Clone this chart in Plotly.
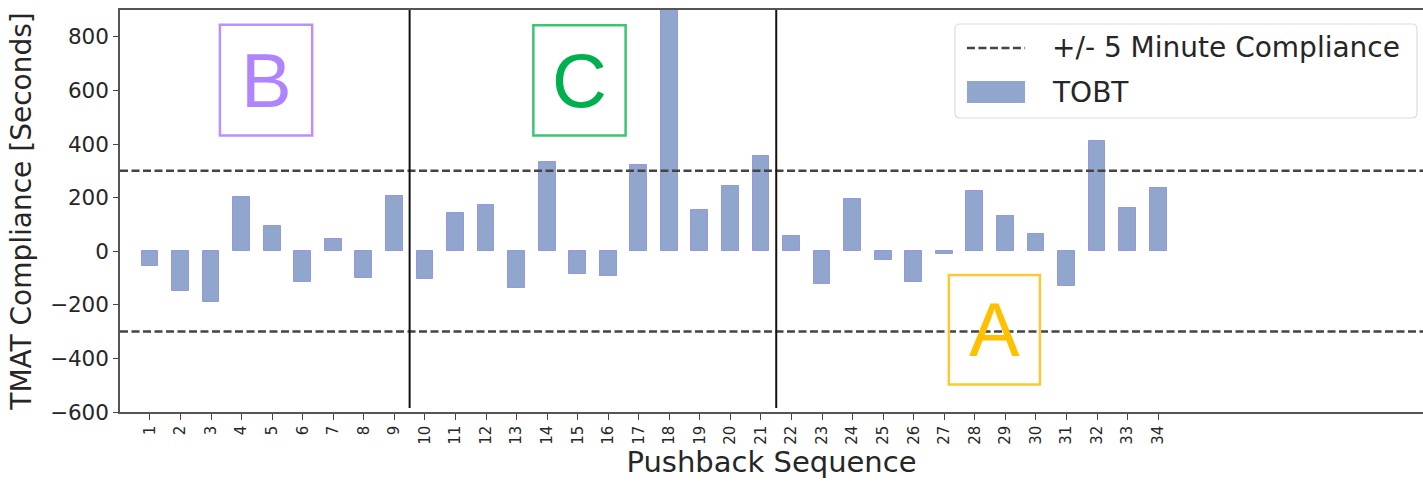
import plotly.graph_objects as go

# ---- data ----
sequence = list(range(1, 35))
tobt_compliance = [-55, -148, -189, 201, 93, -115, 44, -100, 205,
                   -105, 143, 171, -137, 334, -84, -93, 322, 930, 153, 245, 357,
                   56, -124, 195, -31, -115, -12, 226, 130, 65, -130, 410, 160, 234]
compliance_limit = 300          # +/- 5 minutes in seconds
group_boundaries = [9.5, 21.5]
y_ticks = [-600, -400, -200, 0, 200, 400, 600, 800]
legend_names = ["+/- 5 Minute Compliance", "TOBT"]

# group label boxes: (label, x0, x1, y0, y1, text color, box color)
group_labels = [
    ("B", 3.29, 6.31, 432, 845, "#b184ff", "#b890ff"),
    ("C", 13.55, 16.57, 432, 843, "#00b04f", "#3cc477"),
    ("A", 27.15, 30.13, -497, -89, "#ffc000", "#ffc832"),
]

x_range = [0.02, 42.67]
y_range = [-600, 900]
bar_color = "rgb(144,166,204)"
dash_style = dict(color="#444444", width=2.5, dash="8px,3.5px")

fig = go.Figure()

fig.add_trace(go.Bar(
    x=sequence, y=tobt_compliance, width=0.55,
    marker=dict(color=bar_color, line=dict(color="rgb(150,150,225)", width=1)),
    name=legend_names[1], showlegend=False,
))

fig.add_trace(go.Scatter(
    x=[x_range[0], x_range[1], None, x_range[0], x_range[1]],
    y=[compliance_limit, compliance_limit, None, -compliance_limit, -compliance_limit],
    mode="lines", line=dash_style,
    name=legend_names[0], connectgaps=False, showlegend=False,
))

for xb in group_boundaries:
    fig.add_shape(type="line", x0=xb, x1=xb, y0=-585, y1=y_range[1],
                  xref="x", yref="y", line=dict(color="#111111", width=2), layer="above")

for lab, x0, x1, y0, y1, tc, bc in group_labels:
    fig.add_shape(type="rect", x0=x0, x1=x1, y0=y0, y1=y1, xref="x", yref="y",
                  line=dict(color=bc, width=2.5), layer="above")
    fig.add_annotation(x=(x0 + x1) / 2, y=(y0 + y1) / 2, xref="x", yref="y",
                       text=lab, showarrow=False,
                       font=dict(family="Liberation Sans", size=76, color=tc))

# ---- legend box (matplotlib-style, drawn in paper coordinates) ----
lx0, lx1, ly0, ly1 = 0.6408, 0.9954, 0.7313, 0.9652
rx, ry = 5 / 1303, 5 / 402
legend_path = (f"M {lx0+rx},{ly0} L {lx1-rx},{ly0} Q {lx1},{ly0} {lx1},{ly0+ry} "
               f"L {lx1},{ly1-ry} Q {lx1},{ly1} {lx1-rx},{ly1} "
               f"L {lx0+rx},{ly1} Q {lx0},{ly1} {lx0},{ly1-ry} "
               f"L {lx0},{ly0+ry} Q {lx0},{ly0} {lx0+rx},{ly0} Z")
fig.add_shape(type="path", path=legend_path, xref="paper", yref="paper",
              fillcolor="white", line=dict(color="#dcdcdc", width=1.2), layer="above")
sx0, sx1 = 0.6500, 0.6946
row_y = [0.9055, 0.7960]
fig.add_shape(type="line", x0=sx0, x1=sx1, y0=row_y[0], y1=row_y[0],
              xref="paper", yref="paper", line=dash_style, layer="above")
fig.add_shape(type="rect", x0=sx0, x1=sx1, y0=0.7687, y1=0.8234,
              xref="paper", yref="paper", fillcolor=bar_color,
              line=dict(width=0), layer="above")
for name, yy in zip(legend_names, row_y):
    fig.add_annotation(x=0.7137, y=yy, xref="paper", yref="paper",
                       xanchor="left", yanchor="middle", showarrow=False,
                       text=name, font=dict(size=28, family="DejaVu Sans", color="#262626"))

fig.update_layout(
    width=1423, height=484,
    margin=dict(l=120, r=0, t=10, b=72),
    paper_bgcolor="white", plot_bgcolor="white",
    font=dict(family="DejaVu Sans", color="#262626"),
    showlegend=False,
    bargap=0,
)

fig.update_xaxes(
    range=x_range, tickmode="array", tickvals=sequence,
    ticktext=[str(s) for s in sequence], tickangle=-90,
    tickfont=dict(size=15), ticks="outside", ticklen=6, tickcolor="#444",
    showline=True, linecolor="#555555", linewidth=1.5, mirror=True,
    showgrid=False, zeroline=False,
    title=dict(text="Pushback Sequence", font=dict(size=29), standoff=4),
)
fig.update_yaxes(
    range=y_range, tickmode="array", tickvals=y_ticks,
    tickfont=dict(size=21.5), ticks="outside", ticklen=5, tickcolor="#444",
    showline=True, linecolor="#555555", linewidth=1.5, mirror=False,
    showgrid=False, zeroline=False,
    title=dict(text="TMAT Compliance [Seconds]", font=dict(size=28), standoff=10),
)

fig.write_html("out.html")
